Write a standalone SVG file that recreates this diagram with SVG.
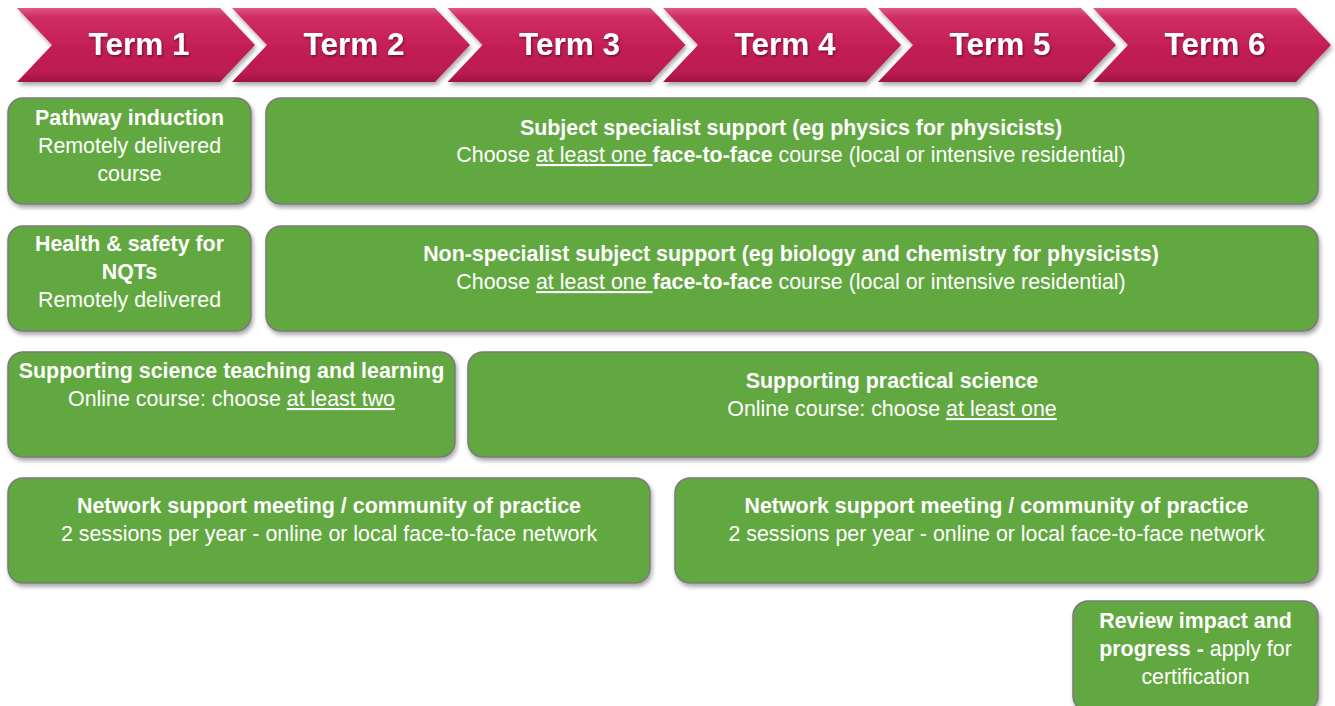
<svg xmlns="http://www.w3.org/2000/svg" width="1335" height="706" viewBox="0 0 1335 706">
<defs>
<linearGradient id="chev" x1="0" y1="0" x2="0" y2="1">
<stop offset="0" stop-color="#E0578A"/>
<stop offset="0.12" stop-color="#CE2D63"/>
<stop offset="0.5" stop-color="#C41F56"/>
<stop offset="0.88" stop-color="#BA1B50"/>
<stop offset="1" stop-color="#9E1544"/>
</linearGradient>
<filter id="sh" x="-5%" y="-10%" width="110%" height="130%">
<feDropShadow dx="1.5" dy="3" stdDeviation="2" flood-color="#000" flood-opacity="0.35"/>
</filter>
<filter id="tsh" x="-10%" y="-20%" width="120%" height="140%">
<feDropShadow dx="1" dy="1.5" stdDeviation="1" flood-color="#000" flood-opacity="0.45"/>
</filter>
<polygon id="chevron" points="0,8 203,8 238,45 203,82 0,82 35,45"/>
</defs>
<style>
.box{fill:#62A83F;stroke:#7A7A7A;stroke-width:1.5}
.t{font-family:"Liberation Sans",Arial,sans-serif;font-size:21.4px;fill:#fff;text-anchor:middle}
.b{font-weight:bold}
.term{font-family:"Liberation Sans",Arial,sans-serif;font-size:31.5px;font-weight:bold;fill:#fff;text-anchor:middle}
.u{text-decoration:underline}
</style>
<rect width="1335" height="706" fill="#fff"/>

<g id="terms">
<g id="term1" transform="translate(17,0)"><use href="#chevron" fill="url(#chev)" filter="url(#sh)"/><text class="term" x="122" y="55" filter="url(#tsh)">Term 1</text></g>
<g id="term2" transform="translate(232,0)"><use href="#chevron" fill="url(#chev)" filter="url(#sh)"/><text class="term" x="122" y="55" filter="url(#tsh)">Term 2</text></g>
<g id="term3" transform="translate(447.5,0)"><use href="#chevron" fill="url(#chev)" filter="url(#sh)"/><text class="term" x="122" y="55" filter="url(#tsh)">Term 3</text></g>
<g id="term4" transform="translate(663,0)"><use href="#chevron" fill="url(#chev)" filter="url(#sh)"/><text class="term" x="122" y="55" filter="url(#tsh)">Term 4</text></g>
<g id="term5" transform="translate(878,0)"><use href="#chevron" fill="url(#chev)" filter="url(#sh)"/><text class="term" x="122" y="55" filter="url(#tsh)">Term 5</text></g>
<g id="term6" transform="translate(1093,0)"><use href="#chevron" fill="url(#chev)" filter="url(#sh)"/><text class="term" x="122" y="55" filter="url(#tsh)">Term 6</text></g>
</g>

<g id="connectors"></g>

<g id="pathway">
<rect class="box" x="8" y="98" width="243" height="106" rx="15" filter="url(#sh)"/>
<text class="t" x="129.5" y="125"><tspan class="b">Pathway induction</tspan><tspan x="129.5" dy="28">Remotely delivered</tspan><tspan x="129.5" dy="28">course</tspan></text>
</g>

<g id="subject">
<rect class="box" x="266" y="98" width="1052" height="106" rx="15" filter="url(#sh)"/>
<text class="t" x="791" y="135"><tspan class="b">Subject specialist support (eg physics for physicists)</tspan></text>
<text class="t" x="791" y="162">Choose <tspan class="u">at least one </tspan><tspan class="b">face-to-face</tspan> course (local or intensive residential)</text>
</g>

<g id="health">
<rect class="box" x="8" y="226" width="243" height="105" rx="15" filter="url(#sh)"/>
<text class="t" x="129.5" y="251"><tspan class="b">Health &amp; safety for</tspan><tspan class="b" x="129.5" dy="28">NQTs</tspan><tspan x="129.5" dy="28">Remotely delivered</tspan></text>
</g>

<g id="nonspecialist">
<rect class="box" x="266" y="226" width="1052" height="105" rx="15" filter="url(#sh)"/>
<text class="t" x="791" y="261"><tspan class="b">Non-specialist subject support (eg biology and chemistry for physicists)</tspan></text>
<text class="t" x="791" y="289">Choose <tspan class="u">at least one </tspan><tspan class="b">face-to-face</tspan> course (local or intensive residential)</text>
</g>

<g id="teaching">
<rect class="box" x="8" y="352" width="447" height="105" rx="15" filter="url(#sh)"/>
<text class="t" x="231.5" y="378"><tspan class="b">Supporting science teaching and learning</tspan></text>
<text class="t" x="231.5" y="406">Online course: choose <tspan class="u">at least two</tspan></text>
</g>

<g id="practical">
<rect class="box" x="468" y="352" width="850" height="105" rx="15" filter="url(#sh)"/>
<text class="t" x="892" y="388"><tspan class="b">Supporting practical science</tspan></text>
<text class="t" x="892" y="416">Online course: choose <tspan class="u">at least one</tspan></text>
</g>

<g id="network1">
<rect class="box" x="8" y="478" width="642" height="105" rx="15" filter="url(#sh)"/>
<text class="t" x="329" y="513"><tspan class="b">Network support meeting / community of practice</tspan></text>
<text class="t" x="329" y="541">2 sessions per year - online or local face-to-face network</text>
</g>

<g id="network2">
<rect class="box" x="675" y="478" width="643" height="105" rx="15" filter="url(#sh)"/>
<text class="t" x="996.5" y="513"><tspan class="b">Network support meeting / community of practice</tspan></text>
<text class="t" x="996.5" y="541">2 sessions per year - online or local face-to-face network</text>
</g>

<g id="review">
<rect class="box" x="1073" y="601" width="245" height="110" rx="15" filter="url(#sh)"/>
<text class="t" x="1195.5" y="628"><tspan class="b">Review impact and</tspan><tspan x="1195.5" dy="28"><tspan class="b">progress -</tspan> apply for</tspan><tspan x="1195.5" dy="28">certification</tspan></text>
</g>
</svg>
